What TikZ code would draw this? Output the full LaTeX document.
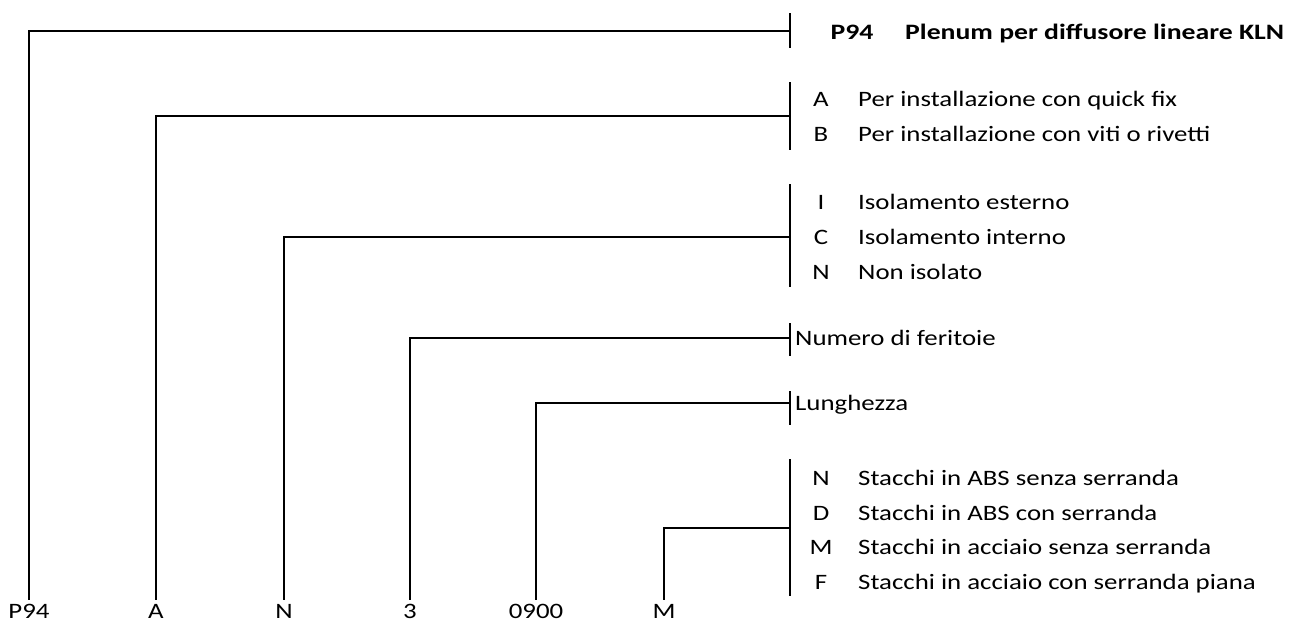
\documentclass[tikz,border=0pt]{standalone}
\usepackage{fontspec}
\usepackage{graphicx}
\setmainfont{Carlito}
\newcommand\sx[1]{\scalebox{1.22}[1]{#1}}
\newcommand\sxb[1]{\scalebox{1.26}[1]{\bfseries #1}}
\begin{document}
\begin{tikzpicture}[x=1pt,y=-1pt,
  every node/.style={inner sep=0pt, font=\fontsize{22}{26}\selectfont},
  wire/.style={line width=2.2pt},
  code/.style={anchor=base},
  letter/.style={anchor=base},
  desc/.style={anchor=base west}]
\useasboundingbox (0,0) rectangle (1290,624);
% bottom code labels
\node[code] (l1) at (29,618) {\sx{P94}};
\node[code] (l2) at (156,618) {\sx{A}};
\node[code] (l3) at (284,618) {\sx{N}};
\node[code] (l4) at (410,618) {\sx{3}};
\node[code] (l5) at (536,618) {\sx{0900}};
\node[code] (l6) at (664,618) {\sx{M}};
% junctions on the brackets
\coordinate (j1) at (790,31);
\coordinate (j2) at (790,116);
\coordinate (j3) at (790,237);
\coordinate (j4) at (790,338);
\coordinate (j5) at (790,403);
\coordinate (j6) at (790,528);
% brackets
\draw[wire] (790,13) -- (790,48);
\draw[wire] (790,82) -- (790,150);
\draw[wire] (790,184) -- (790,287);
\draw[wire] (790,323) -- (790,356);
\draw[wire] (790,391) -- (790,425);
\draw[wire] (790,459) -- (790,596);
% connectors
\draw[wire] ([yshift=4pt]l1.north) |- (j1);
\draw[wire] ([yshift=4pt]l2.north) |- (j2);
\draw[wire] ([yshift=4pt]l3.north) |- (j3);
\draw[wire] ([yshift=4pt]l4.north) |- (j4);
\draw[wire] ([yshift=4pt]l5.north) |- (j5);
\draw[wire] ([yshift=4pt]l6.north) |- (j6);
% texts
\node[letter] (t0a) at (852,39) {\sxb{P94}};
\node[desc] (t0b) at (905,39) {\sxb{Plenum per diffusore lineare KLN}};
\node[letter] (ta) at (821,106) {\sx{A}};
\node[desc] (tad) at (858,106) {\sx{Per installazione con quick fix}};
\node[letter] (tb) at (821,141) {\sx{B}};
\node[desc] (tbd) at (858,141) {\sx{Per installazione con viti o rivetti}};
\node[letter] (ti) at (821,209) {\sx{I}};
\node[desc] (tid) at (858,209) {\sx{Isolamento esterno}};
\node[letter] (tc) at (821,244) {\sx{C}};
\node[desc] (tcd) at (858,244) {\sx{Isolamento interno}};
\node[letter] (tn) at (821,279) {\sx{N}};
\node[desc] (tnd) at (858,279) {\sx{Non isolato}};
\node[desc] (tf) at (795,345) {\sx{Numero di feritoie}};
\node[desc] (tl) at (795,410) {\sx{Lunghezza}};
\node[letter] (s1) at (821,485) {\sx{N}};
\node[desc] (s1d) at (858,485) {\sx{Stacchi in ABS senza serranda}};
\node[letter] (s2) at (821,520) {\sx{D}};
\node[desc] (s2d) at (858,520) {\sx{Stacchi in ABS con serranda}};
\node[letter] (s3) at (821,554) {\sx{M}};
\node[desc] (s3d) at (858,554) {\sx{Stacchi in acciaio senza serranda}};
\node[letter] (s4) at (821,589) {\sx{F}};
\node[desc] (s4d) at (858,589) {\sx{Stacchi in acciaio con serranda piana}};
\end{tikzpicture}
\end{document}
